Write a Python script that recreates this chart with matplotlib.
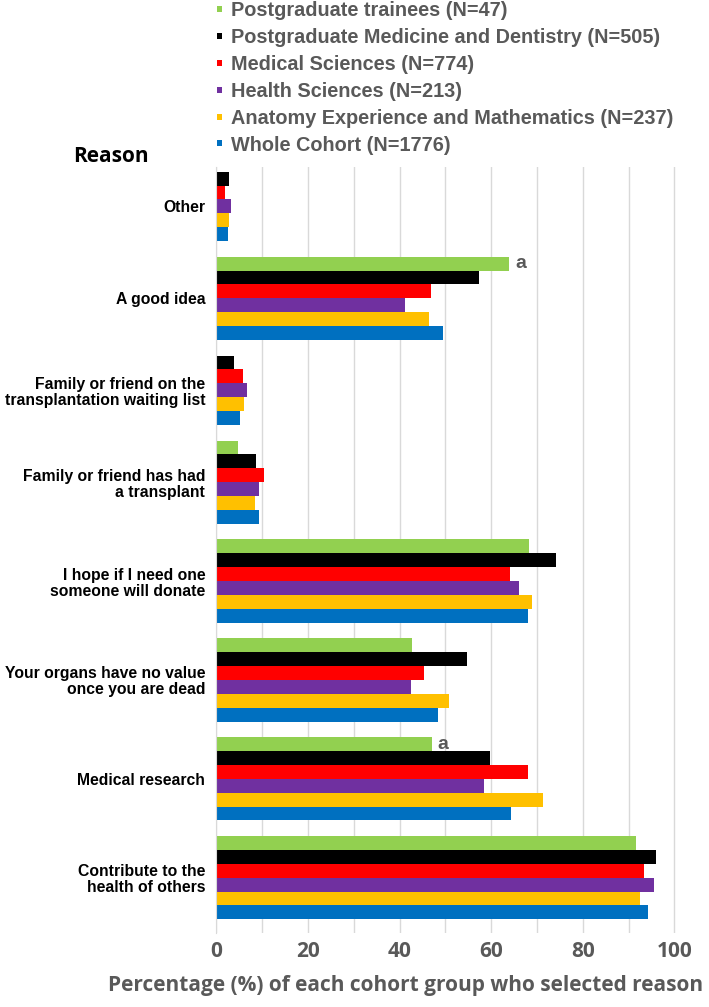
import numpy as np
import matplotlib
matplotlib.use("Agg")
from matplotlib import pyplot as plt

# reasons, top to bottom
reasons = ["Other",
           "A good idea",
           "Family or friend on the\ntransplantation waiting list",
           "Family or friend has had\na transplant",
           "I hope if I need one\nsomeone will donate",
           "Your organs have no value\nonce you are dead",
           "Medical research",
           "Contribute to the\nhealth of others"]

nan = np.nan
pg_trainees = [nan, 64.0, nan, 4.7, 68.3, 42.8, 47.1, 91.6]
pg_med_dent = [2.8, 57.4, 3.9, 8.7, 74.2, 54.7, 59.8, 95.9]
med_sci = [2.0, 46.8, 5.8, 10.5, 64.1, 45.3, 68.0, 93.4]
health_sci = [3.1, 41.1, 6.7, 9.3, 66.0, 42.4, 58.4, 95.6]
anatomy_maths = [2.7, 46.5, 6.1, 8.5, 69.0, 50.7, 71.3, 92.4]
whole_cohort = [2.5, 49.5, 5.1, 9.4, 68.0, 48.3, 64.3, 94.2]

# significance marks on the postgraduate trainee bars
trainee_marks = ["", "a", "", "", "", "", "a", ""]

series = [
    ("Postgraduate trainees (N=47)", pg_trainees, "#92D050"),
    ("Postgraduate Medicine and Dentistry (N=505)", pg_med_dent, "#000000"),
    ("Medical Sciences (N=774)", med_sci, "#FF0000"),
    ("Health Sciences (N=213)", health_sci, "#7030A0"),
    ("Anatomy Experience and Mathematics (N=237)", anatomy_maths, "#FFC000"),
    ("Whole Cohort (N=1776)", whole_cohort, "#0070C0"),
]

GAP = 1.12
grey = "#595959"

fig = plt.figure(figsize=(7.09, 10.07), dpi=100)
ax = fig.add_axes([0.3051, 0.0735, 0.6848, 0.7607])

# bars with no value take no slot
pos = 0.0
centers = []
handles = {}
for i in range(len(reasons)):
    start = pos
    for name, vals, col in series:
        v = vals[i]
        if np.isnan(v):
            continue
        b = ax.barh(pos + 0.5, v, height=1.0, color=col, label=name, zorder=3)
        handles[name] = b
        if vals is pg_trainees and trainee_marks[i]:
            ax.annotate(trainee_marks[i], (v, pos + 0.5), xytext=(4, 0),
                        textcoords="offset points", va="center", ha="left",
                        fontsize=14, fontweight="bold", color=grey,
                        family="Liberation Sans")
        pos += 1
    centers.append((start + pos) / 2)
    pos += GAP
total = pos - GAP

ax.set_ylim(total + 0.98, -0.34)
ax.set_xlim(0, 106)
ax.set_yticks(centers)
ax.set_yticklabels(reasons, fontsize=11.3, fontweight="bold",
                   family="Liberation Sans", linespacing=1.08)
ax.set_xticks(range(0, 101, 20))
ax.set_xticks(range(0, 101, 10), minor=True)
ax.tick_params(axis="y", length=0, pad=8)
ax.tick_params(axis="x", which="both", length=0, pad=6)
for t in ax.get_xticklabels():
    t.set_family("Open Sans")
    t.set_fontweight("bold")
    t.set_fontsize(15)
    t.set_color(grey)
ax.grid(axis="x", which="both", color="#D9D9D9", linewidth=1, zorder=0)
for s in ["top", "right", "bottom"]:
    ax.spines[s].set_visible(False)
ax.spines["left"].set_color("#D9D9D9")
ax.spines["left"].set_zorder(4)

fig.text(406 / 709, 1 - 991 / 1007, "Percentage (%) of each cohort group who selected reason",
         ha="center", va="baseline", fontsize=15, fontweight="bold",
         family="Open Sans", color=grey)
fig.text(111 / 709, 1 - 157 / 1007, "Reason", ha="center", va="center",
         fontsize=15, fontweight="bold", family="Open Sans", color="black")

leg = fig.legend([handles[s[0]] for s in series], [s[0] for s in series],
                 loc="upper left", bbox_to_anchor=(216.5 / 709, 1 - 1 / 1007),
                 frameon=False, handlelength=0.3, handleheight=0.085,
                 handletextpad=0.45, labelspacing=0.40, borderpad=0,
                 borderaxespad=0,
                 prop={"family": "Liberation Sans", "weight": "bold", "size": 14.3})
for t in leg.get_texts():
    t.set_color(grey)

fig.savefig("out.png", dpi=100)
